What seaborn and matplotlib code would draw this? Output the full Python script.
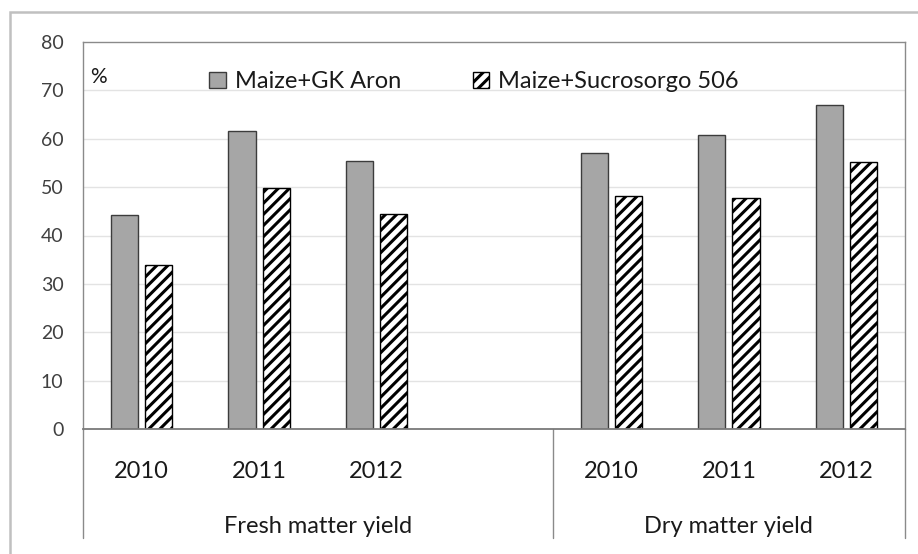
import numpy as np
import pandas as pd
import seaborn as sns
import matplotlib.pyplot as plt
from matplotlib.patches import Patch, Rectangle
import matplotlib.transforms as mtransforms

# data
groups = ["Fresh matter yield", "Dry matter yield"]
years = ["2010", "2011", "2012"]
series = ["Maize+GK Aron", "Maize+Sucrosorgo 506"]
gk_aron = [44.2, 61.6, 55.5, 57.1, 60.8, 66.9]
sucrosorgo = [33.9, 49.8, 44.5, 48.2, 47.7, 55.1]

sns.set_theme(style="white")
plt.rcParams['font.family'] = ['Lato', 'DejaVu Sans']
plt.rcParams['hatch.linewidth'] = 2.2

# one slot per group/year, with an empty slot between the two groups
slots = [f"{g} {y}" for g in groups for y in years]
order = slots[:3] + ["gap"] + slots[3:]

rows = []
for i, s in enumerate(slots):
    rows.append({"slot": s, "series": series[0], "value": gk_aron[i]})
    rows.append({"slot": s, "series": series[1], "value": sucrosorgo[i]})
df = pd.DataFrame(rows)

fig = plt.figure(figsize=(9.18, 5.54), dpi=100)
ax = fig.add_axes([83 / 918, 1 - 429 / 554, 822 / 918, 387 / 554])

sns.barplot(data=df, x="slot", y="value", hue="series", order=order,
            hue_order=series, palette={series[0]: "#a6a6a6", series[1]: "white"},
            width=0.58, gap=0.2, ax=ax, legend=False)

for bar in ax.containers[0]:
    bar.set_edgecolor("#3c3c3c")
    bar.set_linewidth(1.0)
for bar in ax.containers[1]:
    bar.set_edgecolor("black")
    bar.set_hatch("///")
    bar.set_linewidth(1.0)

ax.set_xlim(-0.5, 6.5)
ax.set_ylim(0, 80)
ax.set_yticks(range(0, 81, 10))
for v in range(10, 80, 10):
    ax.axhline(v, color="#e3e3e3", lw=1.0, zorder=0)
ax.set_axisbelow(True)
ax.tick_params(axis="y", length=0, pad=14, labelsize=14, labelcolor="#404040")
ax.set_xlabel("")
ax.set_ylabel("")

# year labels and group labels below the axis
ticks = [0, 1, 2, 4, 5, 6]
ax.set_xticks(ticks)
ax.set_xticklabels(years * 2)
ax.tick_params(axis="x", length=0, pad=23, labelsize=17, labelcolor="#1a1a1a")
trans = mtransforms.blended_transform_factory(ax.transData, ax.transAxes)
ax.text(1.5, -0.252, groups[0], transform=trans, ha="center", va="center",
        fontsize=17, color="#1a1a1a")
ax.text(5.0, -0.252, groups[1], transform=trans, ha="center", va="center",
        fontsize=17, color="#1a1a1a")
for x in [-0.5, 3.5, 6.5]:
    ax.plot([x, x], [0, -0.282], transform=trans, color="#8a8a8a", lw=1.0,
            clip_on=False)

for side in ["left", "top", "right"]:
    ax.spines[side].set_color("#8a8a8a")
    ax.spines[side].set_linewidth(1.0)
ax.spines["bottom"].set_color("#7a7a7a")
ax.spines["bottom"].set_linewidth(1.3)

ax.text(0.009, 0.91, "%", transform=ax.transAxes, ha="left", va="center",
        fontsize=15, color="#1a1a1a")

handles = [Patch(facecolor="#a6a6a6", edgecolor="#3c3c3c"),
           Patch(facecolor="white", edgecolor="black", hatch="///")]
ax.legend(handles, series, loc="center", bbox_to_anchor=(0.476, 0.897),
          ncol=2, frameon=False, fontsize=17, handlelength=0.7,
          handleheight=0.7, handletextpad=0.4, columnspacing=3.0,
          labelcolor="#1a1a1a")

# outer chart frame
fig.add_artist(Rectangle((10 / 918, -0.1), 1.2, 1.1 - 12 / 554,
                         transform=fig.transFigure, fill=False,
                         edgecolor="#c0c0c0", lw=1.8))

fig.savefig("out.png", dpi=100)
